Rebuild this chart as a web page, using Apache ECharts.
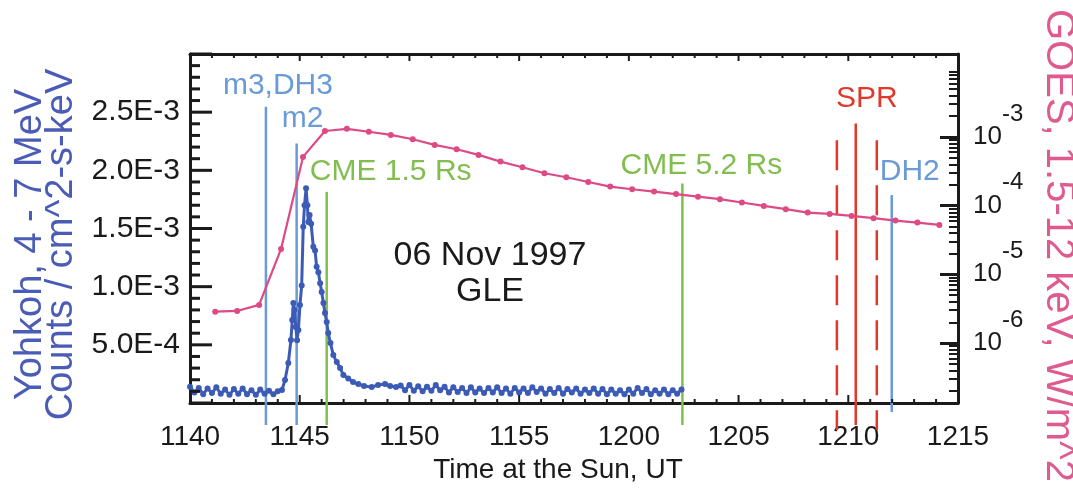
<!DOCTYPE html>
<html>
<head>
<meta charset="utf-8">
<script src="https://cdn.jsdelivr.net/npm/echarts@6/dist/echarts.min.js"></script>
<style>
html, body { margin: 0; padding: 0; background: #fff; }
#chart { width: 1073px; height: 504px; }
</style>
</head>
<body>
<div id="chart"></div>
<script>
// x is minutes after 11:40 UT (time at the Sun)
var timeLabels = ['1140', '1145', '1150', '1155', '1200', '1205', '1210', '1215'];
var countLabels = ['', '5.0E-4', '1.0E-3', '1.5E-3', '2.0E-3', '2.5E-3', ''];
var goesTickValues = [1e-6, 1e-5, 1e-4, 1e-3];
var goesTickExps = ['-6', '-5', '-4', '-3'];

// Yohkoh 4-7 MeV counts / cm^2-s-keV
var yohTime = [
    0.0, 0.2, 0.4, 0.6, 0.8, 1.0, 1.2, 1.4, 1.6, 1.8, 2.0, 2.2, 2.4, 2.6, 2.8, 3.0, 3.2, 3.4, 3.6, 3.8, 4.0,
    4.19, 4.33, 4.48, 4.60, 4.66, 4.71, 4.76, 4.82, 4.88, 4.94, 5.01, 5.09, 5.16, 5.22, 5.29, 5.35, 5.39,
    5.45, 5.52, 5.62, 5.70, 5.77, 5.85, 5.93, 6.00, 6.08, 6.15, 6.23, 6.30, 6.40, 6.53, 6.69, 6.84, 6.99,
    7.21, 7.43, 7.67, 7.93, 8.28, 8.57, 8.89, 9.12, 9.39,
    9.6, 9.8, 10.0, 10.2, 10.4, 10.6, 10.8, 11.0, 11.2, 11.4, 11.6, 11.8, 12.0, 12.2, 12.4, 12.6, 12.8,
    13.0, 13.2, 13.4, 13.6, 13.8, 14.0, 14.2, 14.4, 14.6, 14.8, 15.0, 15.2, 15.4, 15.6, 15.8, 16.0, 16.2,
    16.4, 16.6, 16.8, 17.0, 17.2, 17.4, 17.6, 17.8, 18.0, 18.2, 18.4, 18.6, 18.8, 19.0, 19.2, 19.4, 19.6,
    19.8, 20.0, 20.2, 20.4, 20.6, 20.8, 21.0, 21.2, 21.4, 21.6, 21.8, 22.0, 22.2, 22.4
];
var yohCounts = [
    1.4e-4, 0.9e-4, 1.3e-4, 0.75e-4, 1.25e-4, 0.85e-4, 1.35e-4, 0.8e-4, 1.15e-4, 0.7e-4, 1.2e-4,
    0.8e-4, 1.25e-4, 0.75e-4, 1.1e-4, 0.7e-4, 1.15e-4, 0.8e-4, 1.05e-4, 0.75e-4, 1.0e-4,
    1.12e-4, 1.98e-4, 3.44e-4, 5.41e-4, 7.13e-4, 8.59e-4, 7.99e-4, 6.53e-4, 5.4e-4, 6.27e-4, 8.42e-4,
    1.01e-3, 1.515e-3, 1.70e-3, 1.845e-3, 1.70e-3, 1.555e-3, 1.615e-3, 1.54e-3, 1.343e-3, 1.31e-3,
    1.171e-3, 1.125e-3, 1.03e-3, 9.54e-4, 8.59e-4, 7.73e-4, 6.96e-4, 6.01e-4, 5.15e-4, 4.12e-4, 3.52e-4,
    3.0e-4, 2.41e-4, 2.1e-4, 1.8e-4, 1.63e-4, 1.46e-4, 1.37e-4, 1.55e-4, 1.63e-4, 1.46e-4, 1.37e-4,
    1.5e-4, 1.1e-4, 1.55e-4, 1.05e-4, 1.45e-4, 1.0e-4, 1.4e-4, 1.05e-4, 1.55e-4, 1.1e-4, 1.4e-4,
    0.9e-4, 1.35e-4, 0.95e-4, 1.3e-4, 0.85e-4, 1.35e-4, 0.9e-4, 1.25e-4, 0.85e-4, 1.3e-4, 0.9e-4,
    1.35e-4, 0.85e-4, 1.25e-4, 0.8e-4, 1.3e-4, 0.9e-4, 1.25e-4, 0.85e-4, 1.35e-4, 0.95e-4, 1.25e-4,
    0.8e-4, 1.2e-4, 0.85e-4, 1.3e-4, 0.8e-4, 1.2e-4, 0.9e-4, 1.25e-4, 0.8e-4, 1.15e-4, 0.85e-4,
    1.25e-4, 0.8e-4, 1.2e-4, 0.75e-4, 1.15e-4, 0.8e-4, 1.1e-4, 0.75e-4, 1.15e-4, 0.8e-4, 1.3e-4,
    0.85e-4, 1.2e-4, 0.75e-4, 1.1e-4, 0.8e-4, 1.15e-4, 0.75e-4, 1.1e-4, 0.8e-4, 1.15e-4
];

// GOES 1.5-12 keV flux, W/m^2 (one-minute points)
var goesTime = [
    1.15, 2.15, 3.15, 4.15, 5.15, 6.15, 7.15, 8.15, 9.15, 10.15, 11.15, 12.15, 13.15, 14.15, 15.15, 16.15, 17.15,
    18.15, 19.15, 20.15, 21.15, 22.15, 23.15, 24.15, 25.15, 26.15, 27.15, 28.15, 29.15, 30.15, 31.15, 32.15, 33.15, 34.15
];
var goesFlux = [
    2.86e-6, 2.93e-6, 3.59e-6, 2.34e-5, 5.12e-4, 1.22e-3, 1.31e-3, 1.19e-3, 1.07e-3, 9.26e-4, 7.65e-4,
    6.62e-4, 5.47e-4, 4.37e-4, 3.62e-4, 2.96e-4, 2.59e-4, 2.21e-4, 1.89e-4, 1.73e-4, 1.60e-4, 1.47e-4,
    1.35e-4, 1.24e-4, 1.11e-4, 9.9e-5, 8.87e-5, 7.91e-5, 7.57e-5, 7.08e-5, 6.56e-5, 6.05e-5, 5.66e-5, 5.24e-5
];

// event markers (time in minutes, line span in counts units)
var eventNames = ['m3,DH3', 'm2', 'CME 1.5 Rs', 'CME 5.2 Rs', '', 'SPR', '', 'DH2'];
var eventTimes = [3.46, 4.86, 6.23, 22.44, 29.48, 30.34, 31.30, 31.98];
var eventTops = [2.546e-3, 2.231e-3, 1.815e-3, 1.887e-3, 2.259e-3, 2.403e-3, 2.259e-3, 1.787e-3];
var eventBottoms = [-1.89e-4, -1.89e-4, -1.89e-4, -1.89e-4, -2.32e-4, -1.89e-4, -2.32e-4, -7.7e-5];

var blueEv = '#6a9ad8', greenEv = '#82bd50', redEv = '#e0392b';
var eventStyle = [
    { color: blueEv, dash: null, dx: 12, dy: -21 },
    { color: blueEv, dash: null, dx: 6, dy: -25 },
    { color: greenEv, dash: null, dx: 64, dy: -20 },
    { color: greenEv, dash: null, dx: 19, dy: -18 },
    { color: redEv, dash: [30, 15], dx: 0, dy: 0 },
    { color: redEv, dash: null, dx: 11, dy: -25 },
    { color: redEv, dash: [30, 15], dx: 0, dy: 0 },
    { color: blueEv, dash: null, dx: 18, dy: -23 }
];

var font = "'Liberation Sans', Arial, sans-serif";
var ink = '#1a1a1a';
var countMax = 3e-3;

var yohData = yohTime.map(function (t, i) { return [t, yohCounts[i]]; });
var goesData = goesTime.map(function (t, i) { return [t, goesFlux[i]]; });
var eventData = eventTimes.map(function (t, i) { return [t, eventTops[i], eventBottoms[i]]; });

// frame ticks of the value axes; side 0 bottom, 1 top, 2 left
var frameTickAt = [], frameTickLen = [], frameTickSide = [];
function addTick(x, y, len, side) {
    frameTickAt.push([x, y]);
    frameTickLen.push(len);
    frameTickSide.push(side);
}
for (var m = 0; m <= 35; m++) {
    var major = m % 5 === 0;
    addTick(m, 0, major ? 8 : 4, 0);
    addTick(m, countMax, major ? 7 : 4, 1);
}
for (var c = 0; c <= 30; c++) {
    addTick(0, c * 1e-4, c % 5 === 0 ? 22 : 10, 2);
}
var goesMinorTicks = [];
[-7, -6, -5, -4, -3, -2].forEach(function (p) {
    for (var k = 2; k <= 9; k++) {
        goesMinorTicks.push(k * Math.pow(10, p));
    }
});

function frameLine(show) {
    return { show: show, onZero: false, lineStyle: { color: ink, width: 3 } };
}

var titleText = {
    type: 'text',
    x: 490,
    y: 274,
    style: {
        text: '06 Nov 1997\nGLE',
        font: '34px ' + font,
        lineHeight: 36,
        fill: ink,
        align: 'center',
        verticalAlign: 'middle'
    }
};

var chart = echarts.init(document.getElementById('chart'));

var option = {
    animation: false,
    textStyle: { fontFamily: font },
    grid: { left: 190, right: 115, top: 54, bottom: 101, outerBoundsMode: 'none', containLabel: false },
    xAxis: [{
        type: 'value',
        min: 0,
        max: 35,
        interval: 5,
        name: 'Time at the Sun, UT',
        nameLocation: 'middle',
        nameGap: 50,
        nameTextStyle: { fontSize: 28, color: ink, fontFamily: font, padding: [0, 32, 0, 0] },
        axisLine: frameLine(true),
        axisTick: { show: false },
        axisLabel: {
            fontSize: 28,
            color: ink,
            margin: 20,
            formatter: function (v) { return timeLabels[Math.round(v / 5)]; }
        },
        splitLine: { show: false }
    }, {
        type: 'value',
        position: 'top',
        min: 0,
        max: 35,
        axisLine: frameLine(true),
        axisTick: { show: false },
        axisLabel: { show: false },
        splitLine: { show: false }
    }],
    yAxis: [{
        type: 'value',
        min: 0,
        max: countMax,
        interval: 5e-4,
        name: 'Yohkoh, 4 - 7 MeV\nCounts / cm^2-s-keV',
        nameLocation: 'middle',
        nameRotate: 90,
        nameGap: 106,
        nameTextStyle: { fontSize: 38, lineHeight: 31, color: '#4a5cb6', fontFamily: font, padding: [0, 32, 0, 0] },
        axisLine: frameLine(true),
        axisTick: { show: false },
        axisLabel: {
            fontSize: 30,
            color: ink,
            margin: 10,
            formatter: function (v) { return countLabels[Math.round(v / 5e-4)]; }
        },
        splitLine: { show: false }
    }, {
        type: 'log',
        logBase: 10,
        min: 1.34e-7,
        max: 1.61e-2,
        position: 'right',
        name: 'GOES, 1.5-12 keV, W/m^2',
        nameLocation: 'middle',
        nameRotate: -90,
        nameGap: 80,
        nameTextStyle: { fontSize: 40, color: '#df5b8f', fontFamily: font, padding: [0, 0, 0, 34] },
        axisLine: frameLine(true),
        axisTick: { show: true, inside: true, length: 18, customValues: goesTickValues, lineStyle: { color: ink, width: 3 } },
        axisLabel: {
            customValues: goesTickValues,
            margin: 15,
            formatter: function (v) {
                var idx = 0;
                for (var i = 0; i < goesTickValues.length; i++) {
                    if (Math.abs(Math.log10(goesTickValues[i] / v)) < 0.01) idx = i;
                }
                return '{b|10}{e|' + goesTickExps[idx] + '}';
            },
            rich: {
                b: { fontSize: 26, color: ink, fontFamily: font },
                e: { fontSize: 24, color: ink, fontFamily: font, padding: [0, 0, 46, 0] }
            }
        },
        splitLine: { show: false }
    }, {
        type: 'log',
        logBase: 10,
        min: 1.34e-7,
        max: 1.61e-2,
        position: 'right',
        axisLine: frameLine(false),
        axisTick: { show: true, inside: true, length: 9, customValues: goesMinorTicks, lineStyle: { color: ink, width: 2 } },
        axisLabel: { show: false },
        splitLine: { show: false }
    }],
    graphic: [titleText],
    series: [{
        type: 'custom',
        xAxisIndex: 0,
        yAxisIndex: 0,
        clip: false,
        z: 2,
        encode: { x: 0, y: [1, 2] },
        data: eventData,
        renderItem: function (params, api) {
            var i = params.dataIndex;
            var st = eventStyle[i];
            var top = api.coord([api.value(0), api.value(1)]);
            var bot = api.coord([api.value(0), api.value(2)]);
            var children = [{
                type: 'line',
                shape: { x1: top[0], y1: top[1], x2: bot[0], y2: bot[1] },
                style: { stroke: st.color, lineWidth: 2.5, lineDash: st.dash }
            }];
            if (eventNames[i]) {
                children.push({
                    type: 'text',
                    x: top[0] + st.dx,
                    y: top[1] + st.dy,
                    style: {
                        text: eventNames[i],
                        font: '30px ' + font,
                        fill: st.color,
                        align: 'center',
                        verticalAlign: 'middle'
                    }
                });
            }
            return { type: 'group', children: children };
        }
    }, {
        type: 'line',
        name: 'GOES',
        xAxisIndex: 0,
        yAxisIndex: 1,
        z: 3,
        data: goesData,
        symbol: 'circle',
        symbolSize: 6,
        lineStyle: { color: '#dd4a85', width: 2.2 },
        itemStyle: { color: '#dd4a85' }
    }, {
        type: 'line',
        name: 'Yohkoh',
        xAxisIndex: 0,
        yAxisIndex: 0,
        z: 4,
        data: yohData,
        symbol: 'circle',
        symbolSize: 6,
        lineStyle: { color: '#3c5bb6', width: 3 },
        itemStyle: { color: '#3c5bb6' }
    }]
};

chart.setOption(option);

// inward frame ticks placed through the grid's own scales
var frameGraphics = [titleText];
frameTickAt.forEach(function (pt, i) {
    var p = chart.convertToPixel({ xAxisIndex: 0, yAxisIndex: 0 }, pt);
    var len = frameTickLen[i], side = frameTickSide[i];
    var shape;
    if (side === 0) {
        shape = { x1: p[0], y1: p[1], x2: p[0], y2: p[1] - len };
    } else if (side === 1) {
        shape = { x1: p[0], y1: p[1], x2: p[0], y2: p[1] + len };
    } else {
        shape = { x1: p[0], y1: p[1], x2: p[0] + len, y2: p[1] };
    }
    frameGraphics.push({
        type: 'line',
        silent: true,
        z: 100,
        shape: shape,
        style: { stroke: ink, lineWidth: side === 2 ? 3 : 2 }
    });
});
chart.setOption({ graphic: frameGraphics });
</script>
</body>
</html>
